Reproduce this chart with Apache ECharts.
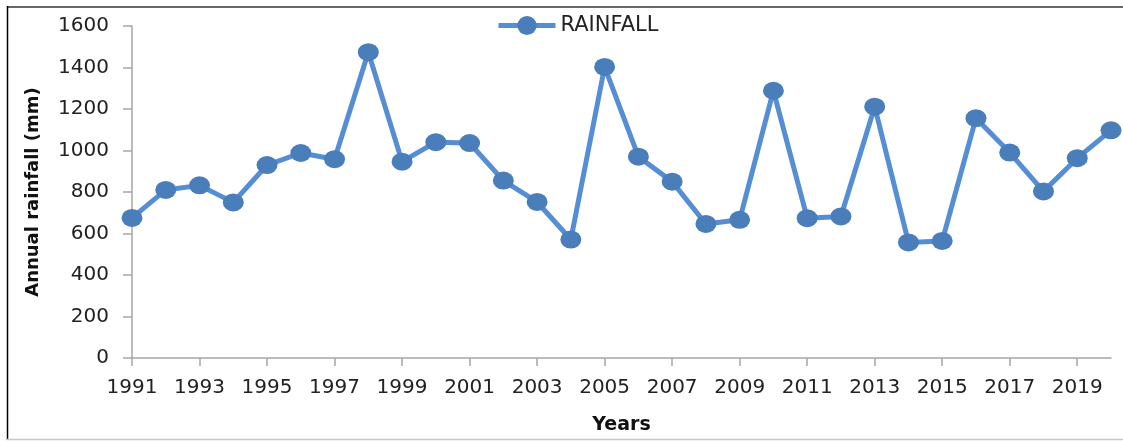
<!DOCTYPE html>
<html>
<head>
<meta charset="utf-8">
<script src="https://cdn.jsdelivr.net/npm/echarts@6/dist/echarts.min.js"></script>
<style>
html,body{margin:0;padding:0;background:#fff;}
#chart{width:1123px;height:441px;}
</style>
</head>
<body>
<div id="chart"></div>
<script>
var years = ['1991','1992','1993','1994','1995','1996','1997','1998','1999','2000',
             '2001','2002','2003','2004','2005','2006','2007','2008','2009','2010',
             '2011','2012','2013','2014','2015','2016','2017','2018','2019','2020'];
var rainfall = [675, 810, 832, 750, 930, 988, 958, 1474, 946, 1040,
                1036, 855, 752, 571, 1403, 970, 850, 646, 666, 1288,
                674, 682, 1211, 557, 564, 1156, 990, 803, 963, 1097];
var seriesName = 'RAINFALL';
var yTitle = 'Annual rainfall (mm)';
var xTitle = 'Years';

var chart = echarts.init(document.getElementById('chart'));
var font = 'DejaVu Sans';
chart.setOption({
  animation: false,
  backgroundColor: '#fff',
  grid: {left: 132, right: 12, top: 26, bottom: 83, containLabel: false},
  legend: {
    top: 10, left: 491,
    itemWidth: 57, itemHeight: 24, itemGap: 6,
    textStyle: {fontFamily: font, fontSize: 21, color: '#222'},
    itemStyle: {color: '#4a7ebb'},
    lineStyle: {color: '#558ed5', width: 5},
    data: [seriesName]
  },
  xAxis: {
    type: 'category',
    data: years,
    boundaryGap: false,
    name: xTitle,
    nameLocation: 'middle',
    nameGap: 58,
    nameTextStyle: {fontFamily: font, fontSize: 19, fontWeight: 'bold', color: '#111'},
    axisLine: {lineStyle: {color: '#a6a6a6', width: 1.5}},
    axisTick: {alignWithLabel: true, interval: 1, length: 8, lineStyle: {color: '#a6a6a6', width: 1.5}},
    axisLabel: {interval: 1, margin: 20, fontFamily: font, fontSize: 20, color: '#222'},
    splitLine: {show: false}
  },
  yAxis: {
    type: 'value',
    min: 0, max: 1600, interval: 200,
    name: yTitle,
    nameLocation: 'middle',
    nameGap: 90,
    nameTextStyle: {fontFamily: font, fontSize: 18, fontWeight: 'bold', color: '#111'},
    axisLine: {show: true, lineStyle: {color: '#a6a6a6', width: 1.5}},
    axisTick: {show: true, length: 9, lineStyle: {color: '#a6a6a6', width: 1.5}},
    axisLabel: {margin: 23, fontFamily: font, fontSize: 20, color: '#222',
                formatter: function (v) { return String(v); }},
    splitLine: {show: false}
  },
  series: [{
    name: seriesName,
    type: 'line',
    data: rainfall,
    symbol: 'circle',
    symbolSize: [21, 18],
    lineStyle: {color: '#558ed5', width: 5},
    itemStyle: {color: '#4a7ebb', borderWidth: 0},
    color: '#558ed5'
  }],
  graphic: [
    {type: 'line', shape: {x1: 7, y1: 7, x2: 1123, y2: 7}, style: {stroke: '#666', lineWidth: 2}},
    {type: 'line', shape: {x1: 7.5, y1: 6, x2: 7.5, y2: 440}, style: {stroke: '#000', lineWidth: 1.5}},
    {type: 'line', shape: {x1: 7, y1: 439.5, x2: 1123, y2: 439.5}, style: {stroke: '#c8c8c8', lineWidth: 1.5}}
  ]
});
</script>
</body>
</html>
